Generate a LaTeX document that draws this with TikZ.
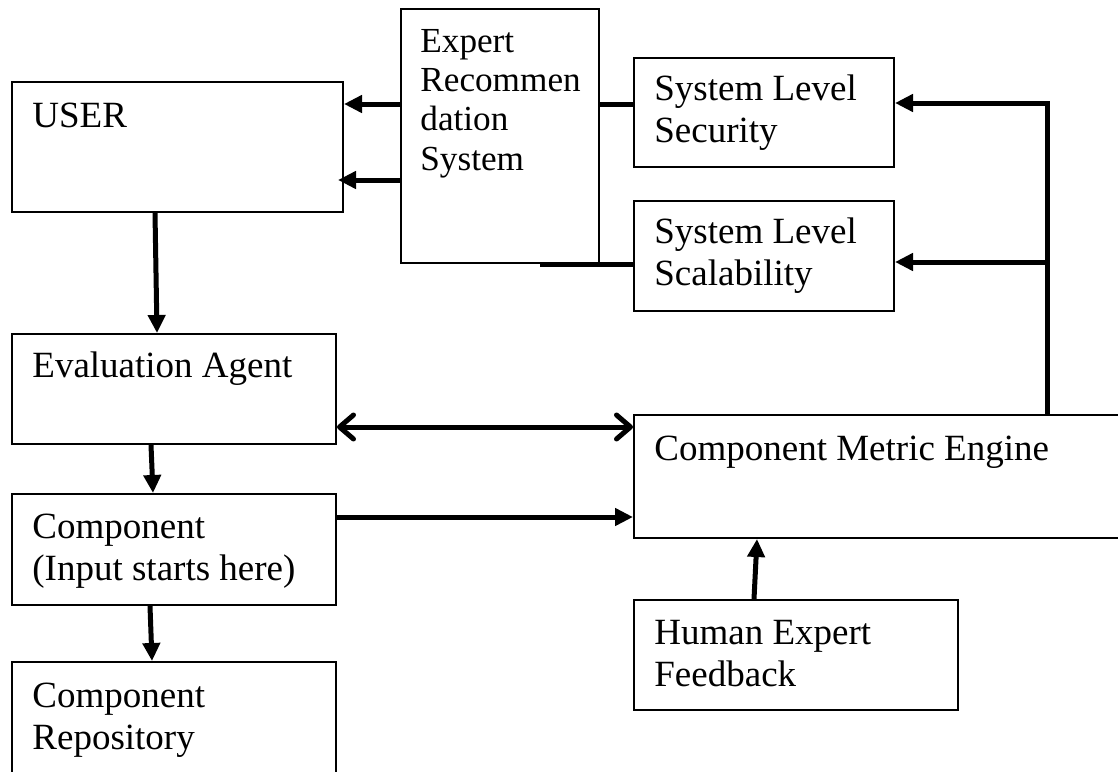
\documentclass[tikz,border=0pt]{standalone}
\usepackage{fontspec}
\setmainfont{Liberation Serif}
\usetikzlibrary{arrows.meta}
\begin{document}
\begin{tikzpicture}[x=0.5pt,y=-0.5pt,
  box/.style={draw, line width=1pt, rectangle, anchor=north west, inner sep=0pt},
  txt/.style={inner sep=0pt, align=left, anchor=base west,
    font=\fontsize{18.5}{21}\selectfont},
  conn/.style={line width=2.5pt},
  arr/.style={conn, -{Triangle[length=9pt,width=8.5pt]}},
  dbl/.style={conn, {Straight Barb[length=7pt,width=12pt,round]}-{Straight Barb[length=7pt,width=12pt,round]}}]
\useasboundingbox (0,0) rectangle (1118,771);
% boxes
\node[box, minimum width=165.5pt, minimum height=65pt] (user) at (11,81) {};
\node[box, minimum width=99pt, minimum height=127pt] (ers) at (400,8) {};
\node[box, minimum width=130pt, minimum height=54.5pt] (sec) at (633,57) {};
\node[box, minimum width=130pt, minimum height=55pt] (scal) at (633,200) {};
\node[box, minimum width=162pt, minimum height=55pt] (ea) at (11,333) {};
\node[box, minimum width=162pt, minimum height=55.5pt] (comp) at (11,493) {};
\node[box, minimum width=162pt, minimum height=60pt] (repo) at (11,661) {};
\node[box, minimum width=245pt, minimum height=61.5pt] (cme) at (633,414) {};
\node[box, minimum width=162pt, minimum height=55pt] (hef) at (633,599) {};
% texts (base anchor = baseline of the last line)
\node[txt] (userT) at ([shift={(21,46)}]user.north west) {USER};
\node[txt, font=\fontsize{17.6}{19.6}\selectfont] (ersT) at ([shift={(20,162)}]ers.north west) {Expert\\Recommen\\dation\\System};
\node[txt] (secT) at ([shift={(21,85)}]sec.north west) {System Level\\Security};
\node[txt] (scalT) at ([shift={(21,85)}]scal.north west) {System Level\\Scalability};
\node[txt] (eaT) at ([shift={(21,44)}]ea.north west) {Evaluation Agent};
\node[txt] (compT) at ([shift={(21,87)}]comp.north west) {Component\\(Input starts here)};
\node[txt] (repoT) at ([shift={(21,88)}]repo.north west) {Component\\Repository};
\node[txt] (cmeT) at ([shift={(21,46)}]cme.north west) {Component Metric Engine};
\node[txt] (hefT) at ([shift={(21,87)}]hef.north west) {Human Expert\\Feedback};
% bus coordinate
\coordinate (bus) at (1047,0);
% connectors
\draw[arr] (ers.west |- 0,104) -- (user.east |- 0,104);
\draw[arr] (ers.west |- 0,180) -- ([xshift=-3pt]user.east |- 0,180);
\draw[conn] (ers.east |- 0,104) -- (sec.west |- 0,104);
\draw[conn] ([xshift=-30pt]ers.south east) -- (scal.west |- ers.south);
\draw[arr] (bus |- cme.north) -- (bus |- 0,103) -- (sec.east |- 0,103);
\draw[arr] (bus |- 0,262) -- (scal.east |- 0,262);
\draw[arr] (user.south -| 155,0) -- (ea.north -| 157,0);
\draw[arr] (ea.south -| 151,0) -- (comp.north -| 153,0);
\draw[arr] (comp.south -| 150,0) -- (repo.north -| 152,0);
\draw[dbl] (ea.east |- 0,427) -- (cme.west |- 0,427);
\draw[arr] (comp.east |- 0,517) -- (cme.west |- 0,517);
\draw[arr] (hef.north -| 754,0) -- (cme.south -| 757,0);
\end{tikzpicture}
\end{document}
